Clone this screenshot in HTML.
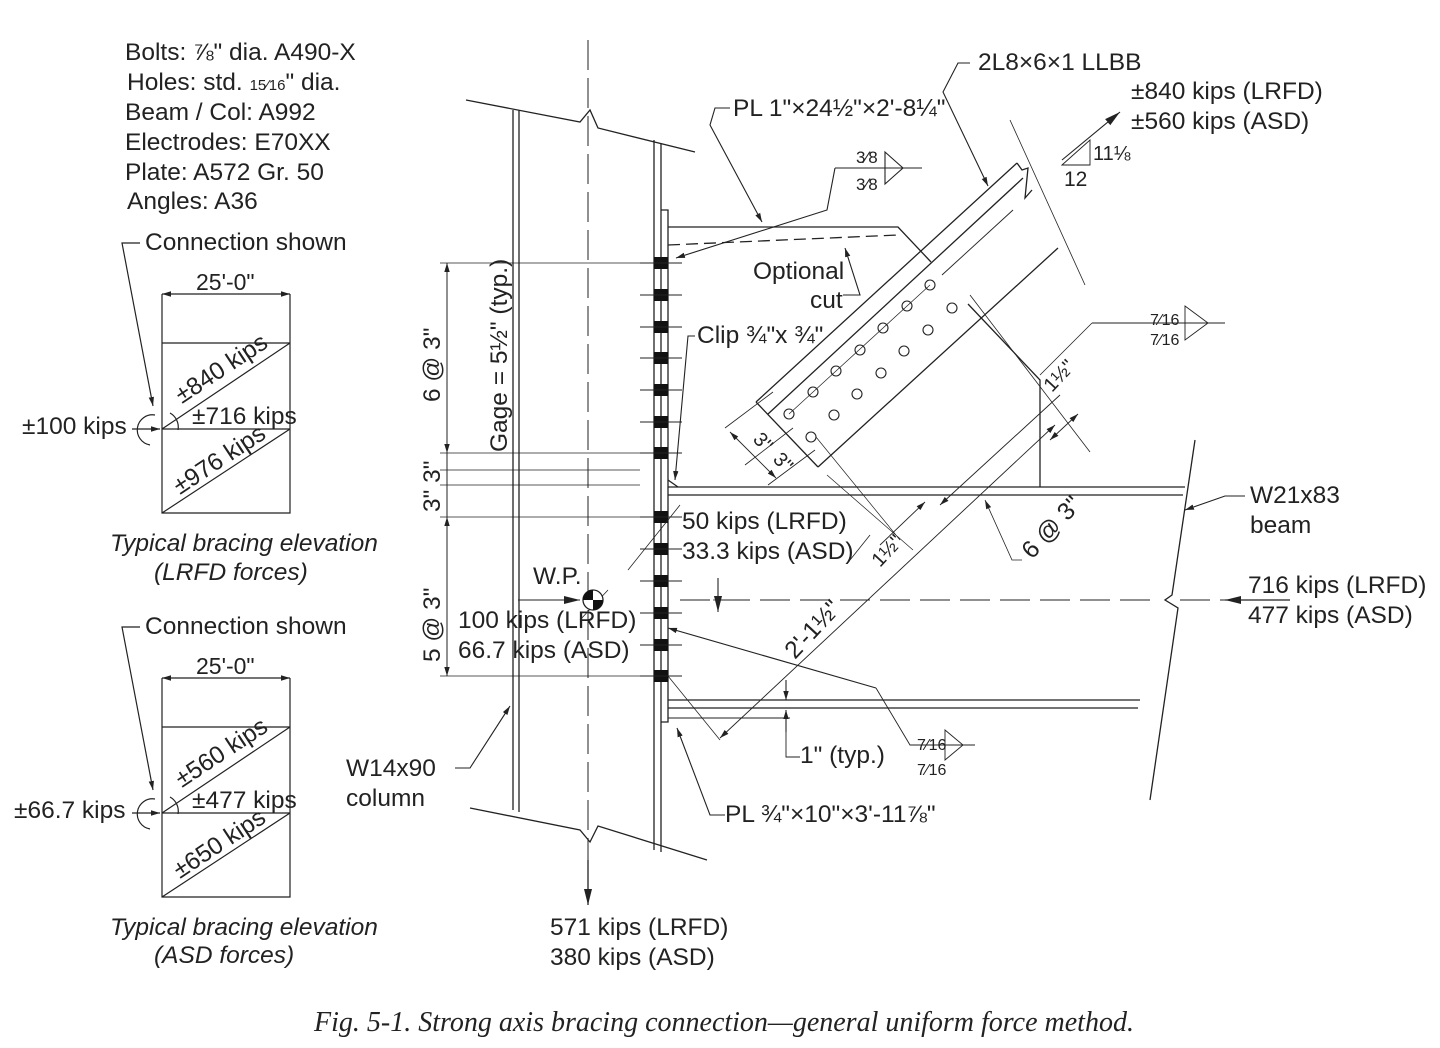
<!DOCTYPE html>
<html><head><meta charset="utf-8"><style>
html,body{margin:0;padding:0;background:#fff}
svg{display:block}
text{font-family:"Liberation Sans",sans-serif;fill:#222}
text.cap{font-family:"Liberation Serif",serif;font-style:italic}
</style></head><body>
<svg width="1440" height="1048" viewBox="0 0 1440 1048" xmlns="http://www.w3.org/2000/svg">
<defs>
<marker id="a" viewBox="0 0 10 10" refX="10" refY="5" markerWidth="9" markerHeight="9" orient="auto-start-reverse" markerUnits="userSpaceOnUse"><path d="M0,2 L10,5 L0,8 z" fill="#222"/></marker>
<marker id="b" viewBox="0 0 10 10" refX="10" refY="5" markerWidth="16" markerHeight="16" orient="auto-start-reverse" markerUnits="userSpaceOnUse"><path d="M0,2.5 L10,5 L0,7.5 z" fill="#222"/></marker>
</defs>

<g font-size="24.5">
<text x="125" y="60">Bolts: ⅞" dia. A490-X</text>
<text x="127" y="90">Holes: std. <tspan font-size="15">15⁄16</tspan>" dia.</text>
<text x="125" y="120">Beam / Col: A992</text>
<text x="125" y="150">Electrodes: E70XX</text>
<text x="125" y="180">Plate: A572 Gr. 50</text>
<text x="127" y="209">Angles: A36</text>
</g>

<g stroke="#222" fill="none" stroke-width="1.2">
<path d="M162,294 V513 H290 V294 M162,343 H290 M162,429 H290 M162,429 L290,343 M162,513 L290,429"/>
<path d="M162,294 H290" marker-start="url(#a)" marker-end="url(#a)"/>
<path d="M140,243 H122 L153,406" marker-end="url(#a)"/>
<path d="M132,429 H160" marker-end="url(#a)"/>
<path d="M155,415 A15,15 0 0 0 150,445 M170,413 A16,16 0 0 1 178,430"/>
</g>
<g font-size="24.5">
<text x="145" y="250">Connection shown</text>
<text x="196" y="290" font-size="23">25'-0"</text>
<text x="22" y="434">±100 kips</text>
<text x="192" y="424">±716 kips</text>
<text transform="translate(182,404) rotate(-33.5)">±840 kips</text>
<text transform="translate(180,495) rotate(-33.5)">±976 kips</text>
<text x="110" y="551" font-style="italic">Typical bracing elevation</text>
<text x="154" y="580" font-style="italic">(LRFD forces)</text>
</g>
<g stroke="#222" fill="none" stroke-width="1.2" transform="translate(0,384)">
<path d="M162,294 V513 H290 V294 M162,343 H290 M162,429 H290 M162,429 L290,343 M162,513 L290,429"/>
<path d="M162,294 H290" marker-start="url(#a)" marker-end="url(#a)"/>
<path d="M140,243 H122 L153,406" marker-end="url(#a)"/>
<path d="M132,429 H160" marker-end="url(#a)"/>
<path d="M155,415 A15,15 0 0 0 150,445 M170,413 A16,16 0 0 1 178,430"/>
</g>
<g font-size="24.5">
<text x="145" y="634">Connection shown</text>
<text x="196" y="674" font-size="23">25'-0"</text>
<text x="14" y="818">±66.7 kips</text>
<text x="192" y="808">±477 kips</text>
<text transform="translate(182,788) rotate(-33.5)">±560 kips</text>
<text transform="translate(180,879) rotate(-33.5)">±650 kips</text>
<text x="110" y="935" font-style="italic">Typical bracing elevation</text>
<text x="154" y="963" font-style="italic">(ASD forces)</text>
</g>

<g stroke="#222" fill="none" stroke-width="1.3">
<path d="M513,110 V810 M519,110 V812 M654,140 V850 M661,143 V852"/>
<path d="M466,100 L580,122 L590,110 L598,128 L695,152"/>
<path d="M470,808 L580,830 L590,842 L598,826 L707,860"/>
<path d="M588,40 V900" stroke-dasharray="30,8" stroke-width="1"/>
<path d="M588,860 V905" marker-end="url(#b)"/>
<path d="M661,210 H668 V722 H661"/>
<path d="M668,487 H1185 M668,495 H1183 M668,700 H1140 M668,708 H1138"/>
<path d="M1195,440 L1172,595 L1165,600 L1178,608 L1150,800"/>
<path d="M680,600 H1160 M1180,600 H1225" stroke-dasharray="30,10" stroke-width="1"/>
<path d="M1290,600 H1225" marker-end="url(#b)"/>
<path d="M668,227 H898 L931,262 M968,304 L1040,380 V487"/>
<path d="M668,245 L898,235" stroke-dasharray="12,6"/>
<path d="M668,480 L678,487"/>
<path d="M756,402 L1017,163 M768,414 L1023,178 M818,467 L1058,248 M756,402 L818,467"/>
<path d="M1017,163 L1022,170 L1028,168 L1025,198 L1032,190"/>
<path d="M942,275 L1013,210" stroke-width="0.9"/>
</g>
<g fill="#111">
<rect x="654" y="257" width="14" height="12"/><rect x="654" y="289" width="14" height="12"/>
<rect x="654" y="321" width="14" height="12"/><rect x="654" y="352" width="14" height="12"/>
<rect x="654" y="384" width="14" height="12"/><rect x="654" y="416" width="14" height="12"/>
<rect x="654" y="447" width="14" height="12"/>
<rect x="654" y="511" width="14" height="12"/><rect x="654" y="543" width="14" height="12"/>
<rect x="654" y="575" width="14" height="12"/><rect x="654" y="607" width="14" height="12"/>
<rect x="654" y="639" width="14" height="12"/><rect x="654" y="670" width="14" height="12"/>
</g>
<g stroke="#222" stroke-width="1" fill="none">
<path d="M640,263 H682 M640,295 H682 M640,327 H682 M640,358 H682 M640,390 H682 M640,422 H682 M640,453 H682 M640,517 H682 M640,549 H682 M640,581 H682 M640,613 H682 M640,645 H682 M640,676 H682"/>
<path d="M440,263 H640 M440,453 H640 M440,470 H640 M440,485 H640 M440,517 H640 M440,676 H640" stroke-width="0.8"/>
<path d="M447,263 V676"/>
<path d="M447,263 V453" marker-start="url(#a)" marker-end="url(#a)"/>
<path d="M447,517 V676" marker-start="url(#a)" marker-end="url(#a)"/>
</g>
<g fill="none" stroke="#222" stroke-width="1.1">
<circle cx="789" cy="414" r="5"/><circle cx="813" cy="392" r="5"/><circle cx="836" cy="371" r="5"/><circle cx="860" cy="350" r="5"/><circle cx="883" cy="328" r="5"/><circle cx="907" cy="306" r="5"/><circle cx="930" cy="285" r="5"/>
<circle cx="811" cy="437" r="5"/><circle cx="834" cy="415" r="5"/><circle cx="857" cy="394" r="5"/><circle cx="881" cy="373" r="5"/><circle cx="904" cy="351" r="5"/><circle cx="928" cy="330" r="5"/><circle cx="952" cy="308" r="5"/>
<path d="M789,414 L930,285" stroke-width="0.7"/>
<path d="M725,428 L773,392 M745,465 L793,428 M768,485 L815,450" stroke-width="0.8"/>
<path d="M730,432 L776,478" marker-start="url(#a)" marker-end="url(#a)" stroke-width="0.9"/>
<path d="M816,437 L900,540 M827,475 L913,550" stroke-width="0.7"/>
<path d="M1060,395 L940,505" marker-end="url(#a)" stroke-width="0.9"/>
<path d="M1010,120 L1085,285" stroke-width="0.8"/>
<path d="M970,295 L1090,452" stroke-width="0.8"/>
<path d="M1050,440 L1078,414" marker-start="url(#a)" marker-end="url(#a)" stroke-width="0.9"/>
<path d="M1055,425 L720,738" marker-start="url(#a)" marker-end="url(#a)" stroke-width="0.9"/>
<path d="M870,535 L850,560" stroke-width="0.8"/>
<path d="M880,545 L925,502" marker-end="url(#a)" stroke-width="0.9"/>
<path d="M985,500 L1012,560 H1022" marker-start="url(#a)" stroke-width="0.8"/>
<path d="M668,676 L720,740" stroke-width="0.8"/>
<path d="M668,718 H790 M786,730 V757 H800" stroke-width="0.9"/>
<path d="M786,680 V700" marker-end="url(#a)"/>
<path d="M786,732 V710" marker-end="url(#a)"/>
<path d="M730,108 H715 L710,125 L762,222" marker-end="url(#a)"/>
<path d="M835,168 L827,210 L676,258" marker-end="url(#a)"/>
<path d="M835,168 H922 M885,152 L903,168 L885,184 Z"/>
<path d="M843,295 H860 L845,248" marker-end="url(#a)"/>
<path d="M695,336 H688 L675,480" marker-end="url(#a)"/>
<path d="M970,63 H958 L943,92 L988,186" marker-end="url(#a)"/>
<path d="M1062,160 L1120,112" marker-end="url(#b)"/>
<path d="M1062,165 L1090,140 V165 Z" stroke-width="0.9"/>
<path d="M1092,323 H1225 M1185,306 L1208,323 L1185,340 Z" stroke-width="0.9"/>
<path d="M1092,323 L1040,375" stroke-width="0.8"/>
<path d="M1245,496 L1225,496 L1185,510" marker-end="url(#a)"/>
<path d="M713,600 H740" stroke-dasharray="18,8" stroke-width="0.8"/>
<path d="M718,578 V612" marker-end="url(#b)"/>
<path d="M518,600 H580" marker-end="url(#b)"/>
<path d="M580,620 L608,590 M628,570 L680,505" stroke-width="0.8"/>
<path d="M876,688 L910,745 H945 M945,730 L963,745 L945,760 Z M945,745 H975" stroke-width="0.9"/>
<path d="M876,688 L668,628" marker-end="url(#a)"/>
<path d="M455,768 H470 L510,706" marker-end="url(#a)"/>
<path d="M725,815 H710 L677,728" marker-end="url(#a)"/>
</g>
<circle cx="593" cy="600" r="10" fill="#fff" stroke="#222" stroke-width="1.3"/>
<path d="M593,600 V590 A10,10 0 0 0 583,600 Z M593,600 V610 A10,10 0 0 0 603,600 Z" fill="#111"/>

<g font-size="24.5">
<text x="733" y="116">PL 1"×24½"×2'-8¼"</text>
<text x="978" y="70">2L8×6×1 LLBB</text>
<text x="1131" y="99">±840 kips (LRFD)</text>
<text x="1131" y="129">±560 kips (ASD)</text>
<text x="1093" y="160" font-size="20">11⅛</text>
<text x="1064" y="186" font-size="21">12</text>
<text x="856" y="163" font-size="17">3⁄8</text>
<text x="856" y="190" font-size="17">3⁄8</text>
<text x="753" y="279">Optional</text>
<text x="810" y="308">cut</text>
<text x="697" y="343">Clip ¾"x ¾"</text>
<text x="1150" y="325" font-size="16">7⁄16</text>
<text x="1150" y="345" font-size="16">7⁄16</text>
<text x="1250" y="503">W21x83</text>
<text x="1250" y="533">beam</text>
<text x="1248" y="593">716 kips (LRFD)</text>
<text x="1248" y="623">477 kips (ASD)</text>
<text x="682" y="529">50 kips (LRFD)</text>
<text x="682" y="559">33.3 kips (ASD)</text>
<text x="533" y="584">W.P.</text>
<text x="458" y="628">100 kips (LRFD)</text>
<text x="458" y="658">66.7 kips (ASD)</text>
<text x="800" y="763">1" (typ.)</text>
<text x="917" y="750" font-size="16">7⁄16</text>
<text x="917" y="775" font-size="16">7⁄16</text>
<text x="725" y="822">PL ¾"×10"×3'-11⅞"</text>
<text x="346" y="776">W14x90</text>
<text x="346" y="806">column</text>
<text x="550" y="935">571 kips (LRFD)</text>
<text x="550" y="965">380 kips (ASD)</text>
<text transform="translate(440,402) rotate(-90)">6 @ 3"</text>
<text transform="translate(440,512) rotate(-90)">3" 3"</text>
<text transform="translate(440,662) rotate(-90)">5 @ 3"</text>
<text transform="translate(507,452) rotate(-90)">Gage = 5½" (typ.)</text>
<text transform="translate(752,440) rotate(47)" font-size="20">3"</text>
<text transform="translate(772,460) rotate(47)" font-size="20">3"</text>
<text transform="translate(1052,393) rotate(-47)" font-size="20">1½"</text>
<text transform="translate(880,568) rotate(-47)" font-size="20">1½"</text>
<text transform="translate(795,660) rotate(-47)">2'-1½"</text>
<text transform="translate(1032,560) rotate(-47)">6 @ 3"</text>
</g>
<text class="cap" x="724" y="1031" text-anchor="middle" font-size="28">Fig. 5-1.  Strong axis bracing connection—general uniform force method.</text>
</svg>
</body></html>
